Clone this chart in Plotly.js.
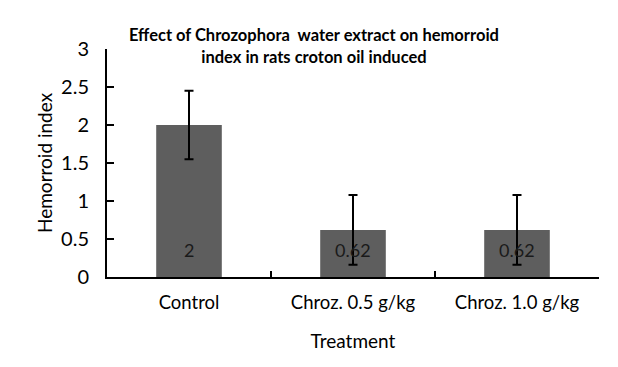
<!DOCTYPE html>
<html>
<head>
<meta charset="utf-8">
<script src="https://cdn.plot.ly/plotly-3.0.1.min.js"></script>
<style>html,body{margin:0;padding:0;background:#fff;}#chart{width:618px;height:367px;}</style>
</head>
<body>
<div id="chart"></div>
<script>
const categories = ["Control", "Chroz. 0.5 g/kg", "Chroz. 1.0 g/kg"];
const values = [2, 0.62, 0.62];
const errors = [0.45, 0.46, 0.46];
const valueLabels = ["2", "0.62", "0.62"];
const yTicks = [0, 0.5, 1, 1.5, 2, 2.5, 3];
const yTickText = ["0", "0.5", "1", "1.5", "2", "2.5", "3"];

const FONT = "Lato, 'Open Sans', sans-serif";

const trace = {
  type: "bar",
  x: categories,
  y: values,
  marker: {color: "#5e5e5e", line: {width: 0}},
  error_y: {type: "data", array: errors, visible: true, color: "#000", thickness: 2, width: 4.5},
  hoverinfo: "none"
};
// invisible helper trace so the overlaying tick-mark axis is drawn
const tickHelper = {
  type: "scatter", x: categories, y: values, yaxis: "y2",
  mode: "none", hoverinfo: "skip", showlegend: false
};

const annotations = categories.map((c, i) => ({
  x: c, y: 0, xref: "x", yref: "y",
  text: valueLabels[i], showarrow: false,
  yshift: 27, font: {family: FONT, size: 18, color: "#1a1a1a"}
}));
annotations.push({
  text: "Hemorroid index", xref: "paper", yref: "paper", x: 0, y: 0.5,
  xanchor: "center", yanchor: "middle", xshift: -63, textangle: -90,
  showarrow: false, font: {family: FONT, size: 19, color: "#000"}
});

const layout = {
  width: 618, height: 367,
  margin: {l: 107, r: 19, t: 49, b: 90},
  paper_bgcolor: "#fff", plot_bgcolor: "#fff",
  showlegend: false,
  bargap: 0.6,
  font: {family: FONT, size: 18, color: "#000"},
  title: {
    text: "<b>Effect of Chrozophora  water extract on hemorroid<br>index in rats croton oil induced</b>",
    x: 0.508, xref: "container", xanchor: "center",
    y: 0.888, yref: "container", yanchor: "top",
    font: {family: FONT, size: 16.5, color: "#000"}
  },
  xaxis: {
    type: "category",
    showline: true, linecolor: "#000", linewidth: 2,
    ticks: "inside", tickson: "boundaries", ticklen: 6, tickcolor: "#000", tickwidth: 2,
    ticklabelstandoff: 8,
    tickfont: {family: FONT, size: 18.5, color: "#000"},
    showgrid: false, zeroline: false,
    title: {text: "Treatment", font: {family: FONT, size: 19, color: "#000"}, standoff: 22}
  },
  yaxis: {
    range: [0, 3],
    tickvals: yTicks, ticktext: yTickText,
    showline: true, linecolor: "#000", linewidth: 2,
    ticks: "outside", ticklen: 12, tickcolor: "rgba(0,0,0,0)", tickwidth: 2,
    tickfont: {family: FONT, size: 20, color: "#000"},
    showgrid: false, zeroline: false
  },
  yaxis2: {
    overlaying: "y", side: "left", anchor: "x",
    range: [0, 3],
    tickvals: yTicks, showticklabels: false,
    showline: false,
    ticks: "inside", ticklen: 7, tickcolor: "#000", tickwidth: 2,
    showgrid: false, zeroline: false
  },
  annotations: annotations
};

Plotly.newPlot("chart", [trace, tickHelper], layout, {displayModeBar: false, staticPlot: true});
</script>
</body>
</html>
